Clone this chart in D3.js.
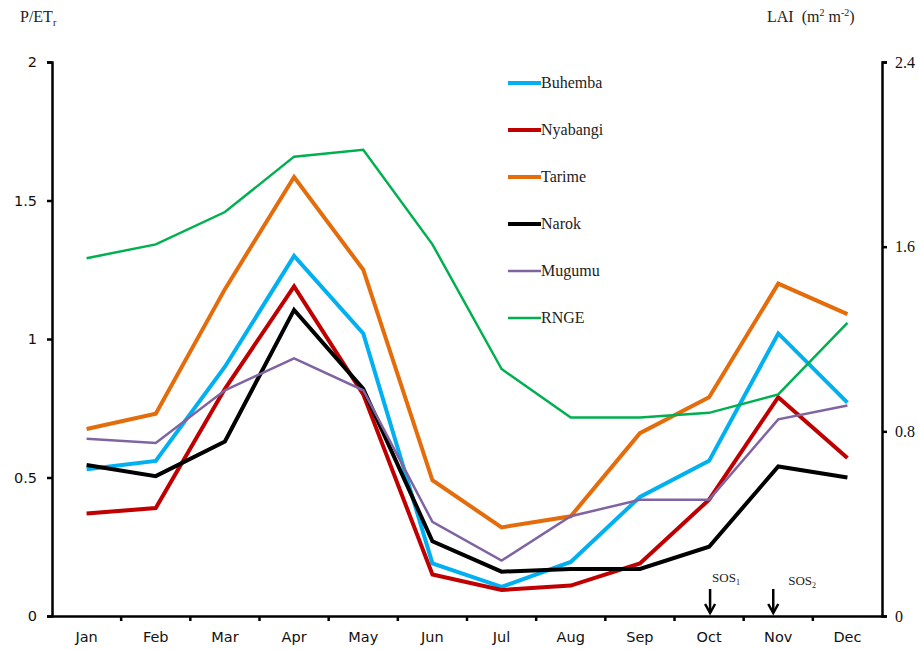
<!DOCTYPE html>
<html>
<head>
<meta charset="utf-8">
<script src="https://cdn.jsdelivr.net/npm/d3@7"></script>
<style>
  body { margin: 0; background: #fff; }
  svg { display: block; }
</style>
</head>
<body>
<svg id="chart" width="919" height="650"></svg>
<script>
// mois et series (P/ETr, axe gauche)
const months = ['Jan','Feb','Mar','Apr','May','Jun','Jul','Aug','Sep','Oct','Nov','Dec']
const buhemba  = [0.53, 0.56, 0.90, 1.30, 1.02, 0.19, 0.105, 0.195, 0.43, 0.56, 1.02, 0.77]
const nyabangi = [0.37, 0.39, 0.82, 1.19, 0.80, 0.15, 0.094, 0.11, 0.19, 0.42, 0.79, 0.57]
const tarime   = [0.675, 0.73, 1.18, 1.585, 1.25, 0.49, 0.32, 0.36, 0.66, 0.79, 1.20, 1.09]
const narok    = [0.545, 0.505, 0.63, 1.105, 0.82, 0.27, 0.16, 0.17, 0.17, 0.25, 0.54, 0.50]
const mugumu   = [0.64, 0.625, 0.815, 0.93, 0.815, 0.34, 0.20, 0.36, 0.42, 0.42, 0.71, 0.76]
// RNGE = LAI (axe droit, m2 m-2)
const rnge     = [1.55, 1.61, 1.75, 1.99, 2.02, 1.61, 1.07, 0.86, 0.86, 0.88, 0.96, 1.27]

const leftTicks = [0, 0.5, 1, 1.5, 2]
const rightTicks = [0, 0.8, 1.6, 2.4]
const sosMarks = [{month: 'Oct', label: 'SOS', sub: '1'}, {month: 'Nov', label: 'SOS', sub: '2'}]

const series = [
  {name: 'Buhemba',  values: buhemba,  color: '#00b0f0', width: 4,   axis: 'left'},
  {name: 'Nyabangi', values: nyabangi, color: '#c00000', width: 4,   axis: 'left'},
  {name: 'Tarime',   values: tarime,   color: '#e46c0a', width: 4,   axis: 'left'},
  {name: 'Narok',    values: narok,    color: '#000000', width: 4,   axis: 'left'},
  {name: 'Mugumu',   values: mugumu,   color: '#8064a2', width: 2.5, axis: 'left'},
  {name: 'RNGE',     values: rnge,     color: '#00b050', width: 2.5, axis: 'right'}
]

const svg = d3.select('#chart')
const m = {left: 52, right: 882, top: 62, bottom: 616}

const x = d3.scaleBand().domain(months).range([m.left, m.right])
const yL = d3.scaleLinear().domain([0, 2]).range([m.bottom, m.top])
const yR = d3.scaleLinear().domain([0, 2.4]).range([m.bottom, m.top])

const serif = '"Liberation Serif", "Times New Roman", serif'
const sans = '"DejaVu Sans", Verdana, sans-serif'

// axes
const axisL = svg.append('g').attr('transform', `translate(${m.left},0)`)
  .call(d3.axisLeft(yL).tickValues(leftTicks).tickSize(5).tickPadding(10).tickFormat(d3.format('')))
const axisR = svg.append('g').attr('transform', `translate(${m.right},0)`)
  .call(d3.axisRight(yR).tickValues(rightTicks).tickSize(5).tickPadding(8).tickFormat(d => d === 0 ? '0' : d3.format('.1f')(d)))
const axisB = svg.append('g').attr('transform', `translate(0,${m.bottom})`)
  .call(d3.axisBottom(x).tickSize(0).tickPadding(16))

;[axisL, axisR, axisB].forEach(a => {
  a.select('.domain').attr('stroke', '#000').attr('stroke-width', 2.5)
  a.selectAll('.tick line').attr('stroke', '#000').attr('stroke-width', 2.5)
})
axisL.selectAll('text').attr('font-family', sans).attr('font-size', 14.5).attr('fill', '#111')
axisR.selectAll('text').attr('font-family', serif).attr('font-size', 16).attr('fill', '#111')
axisB.selectAll('text').attr('font-family', sans).attr('font-size', 14.5).attr('fill', '#111')

// ticks entre les mois sur l'axe x
axisB.selectAll('.sep').data(months.slice(1))
  .enter().append('line')
  .attr('x1', d => x(d)).attr('x2', d => x(d))
  .attr('y1', 0).attr('y2', 5)
  .attr('stroke', '#000').attr('stroke-width', 2.5)

// lignes
const lineL = d3.line().x((d, i) => x(months[i]) + x.bandwidth() / 2).y(d => yL(d))
const lineR = d3.line().x((d, i) => x(months[i]) + x.bandwidth() / 2).y(d => yR(d))

svg.selectAll('.serie').data(series).enter().append('path')
  .attr('class', 'serie')
  .attr('fill', 'none')
  .attr('stroke', d => d.color)
  .attr('stroke-width', d => d.width)
  .attr('stroke-linejoin', 'miter')
  .attr('d', d => d.axis === 'left' ? lineL(d.values) : lineR(d.values))

// legende
const leg = svg.append('g').attr('transform', 'translate(508,83)')
const items = leg.selectAll('g').data(series).enter().append('g')
  .attr('transform', (d, i) => `translate(0,${i * 47})`)
items.append('line').attr('x1', 0).attr('x2', 33).attr('y1', 0).attr('y2', 0)
  .attr('stroke', d => d.color).attr('stroke-width', d => d.width)
items.append('text').attr('x', 33).attr('y', 5)
  .attr('font-family', serif).attr('font-size', 16).attr('fill', '#222')
  .text(d => d.name)

// titres des axes
const tL = svg.append('text').attr('x', 20).attr('y', 22)
  .attr('font-family', serif).attr('font-size', 16).attr('fill', '#222')
tL.append('tspan').text('P/ET')
tL.append('tspan').attr('font-size', 10).attr('dy', 4).text('r')

const tR = svg.append('text').attr('x', 767).attr('y', 22)
  .attr('font-family', serif).attr('font-size', 16).attr('fill', '#222')
  .style('white-space', 'pre')
tR.append('tspan').text('LAI\u00a0\u00a0(m')
tR.append('tspan').attr('font-size', 10).attr('dy', -6).text('2')
tR.append('tspan').attr('dy', 6).text('\u00a0m')
tR.append('tspan').attr('font-size', 10).attr('dy', -6).text('-2')
tR.append('tspan').attr('dy', 6).text(')')

// fleches SOS
const sosX = [x('Oct') + x.bandwidth() / 2 + 1, x('Nov') + x.bandwidth() / 2 - 5]
sosMarks.forEach((s, i) => {
  const cx = sosX[i]
  const g = svg.append('g')
  g.append('line').attr('x1', cx).attr('x2', cx).attr('y1', 589).attr('y2', 613)
    .attr('stroke', '#000').attr('stroke-width', 2.5)
  g.append('path').attr('d', `M${cx - 5},${604} L${cx},${613} L${cx + 5},${604}`)
    .attr('fill', 'none').attr('stroke', '#000').attr('stroke-width', 2.5)
  const t = g.append('text').attr('x', i === 0 ? cx + 2 : cx + 15).attr('y', i === 0 ? 582 : 585)
    .attr('font-family', serif).attr('font-size', 13).attr('fill', '#222')
  t.append('tspan').text(s.label)
  t.append('tspan').attr('font-size', 8).attr('dy', 3).text(s.sub)
})
</script>
</body>
</html>
